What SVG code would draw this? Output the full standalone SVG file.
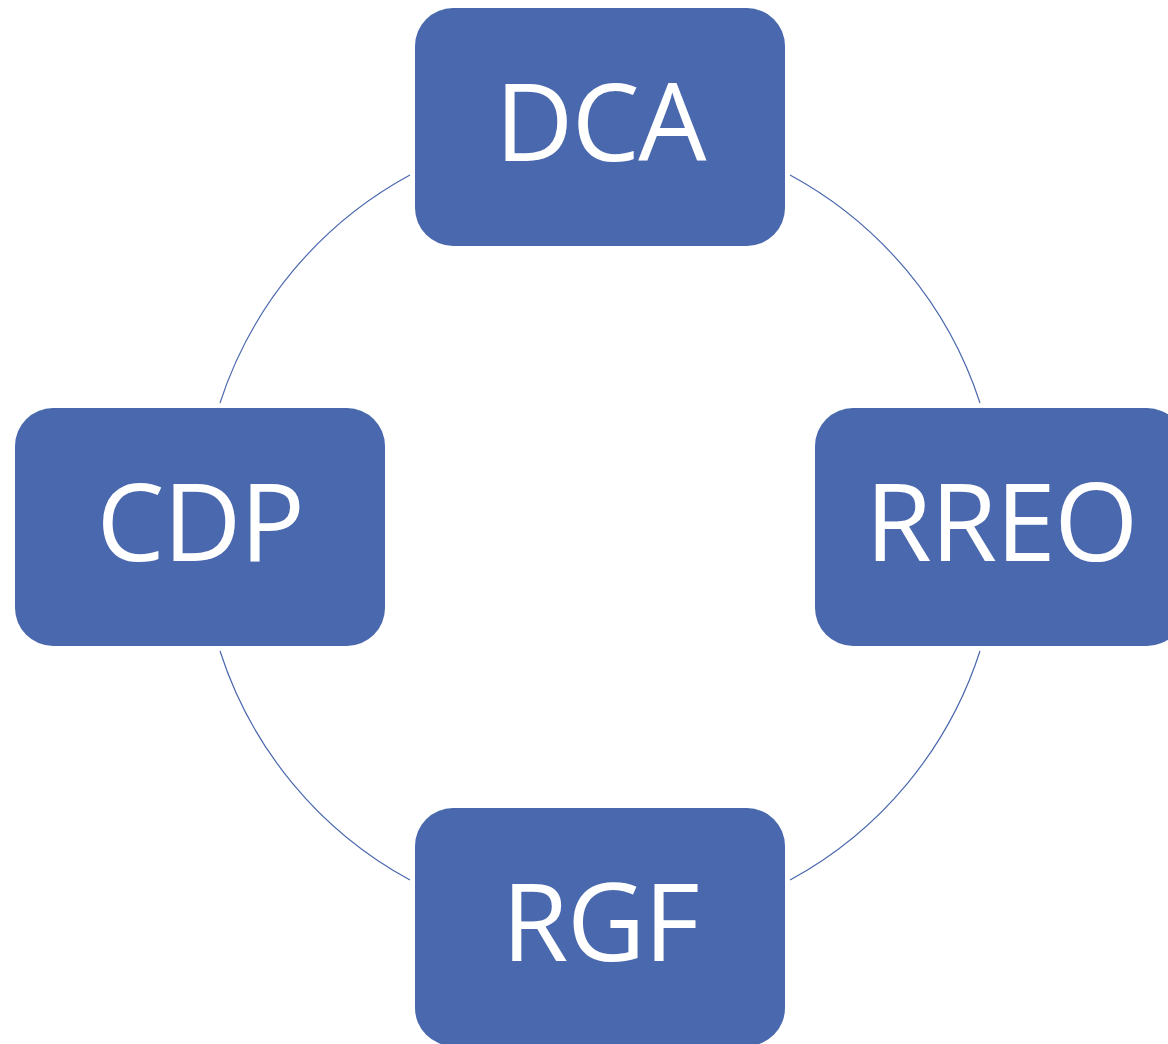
<svg xmlns="http://www.w3.org/2000/svg" width="1168" height="1044" viewBox="0 0 1168 1044">
<style>
.node rect{fill:#4A68AE;}
.node text{fill:#FFFFFF;font-family:"Open Sans","Noto Sans","Liberation Sans",sans-serif;font-size:108px;letter-spacing:-1.5px;text-anchor:middle;}
.conn path{fill:none;stroke:#4A68AE;stroke-width:1.2;}
</style>
<rect width="1168" height="1044" fill="#FFFFFF"/>
<g id="connectors" class="conn">
<path d="M410,175 A400,400 0 0 0 220,403"/>
<path d="M790,175 A400,400 0 0 1 980,403"/>
<path d="M980,651 A400,400 0 0 1 790,880"/>
<path d="M220,651 A400,400 0 0 0 410,880"/>
</g>
<g id="node-dca" class="node">
<rect x="415" y="8" width="370" height="238" rx="38"/>
<text x="600" y="161">DCA</text>
</g>
<g id="node-rreo" class="node">
<rect x="815" y="408" width="370" height="238" rx="38"/>
<text x="1001" y="561">RREO</text>
</g>
<g id="node-rgf" class="node">
<rect x="415" y="808" width="370" height="238" rx="38"/>
<text x="600" y="961">RGF</text>
</g>
<g id="node-cdp" class="node">
<rect x="15" y="408" width="370" height="238" rx="38"/>
<text x="200" y="561">CDP</text>
</g>
</svg>
